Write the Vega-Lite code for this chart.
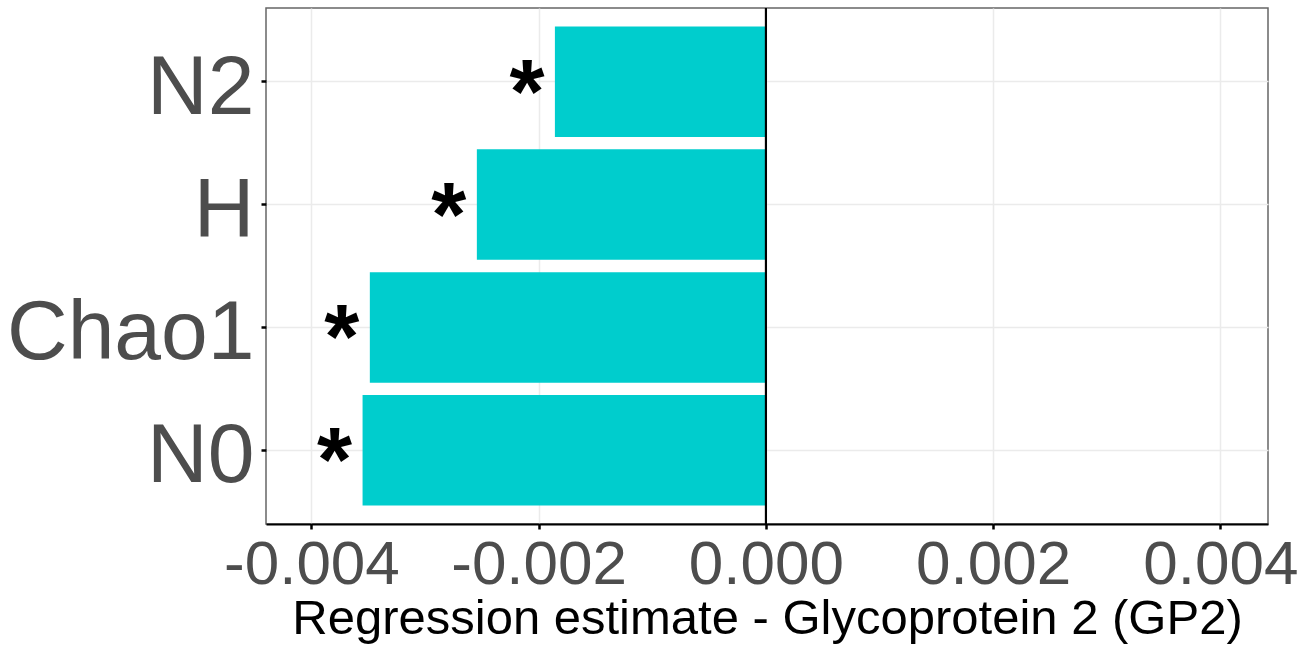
{
  "$schema": "https://vega.github.io/schema/vega-lite/v6.json",
  "autosize": {"type": "none"},
  "padding": {"left": 266, "top": 8, "right": 44, "bottom": 127},
  "width": 1002,
  "height": 516,
  "background": "white",
  "config": {
    "font": "Liberation Sans",
    "view": {"stroke": "#666666", "strokeWidth": 1.5}
  },
  "data": {
    "values": [
      {"index": "N2", "estimate": -0.001857, "sig": "*"},
      {"index": "H", "estimate": -0.002544, "sig": "*"},
      {"index": "Chao1", "estimate": -0.003486, "sig": "*"},
      {"index": "N0", "estimate": -0.00355, "sig": "*"}
    ]
  },
  "encoding": {
    "y": {
      "field": "index",
      "type": "nominal",
      "scale": {"domain": ["N2", "H", "Chao1", "N0"], "paddingInner": 0.1, "paddingOuter": 0.15},
      "axis": {
        "title": null,
        "domain": false,
        "grid": true,
        "gridColor": "#EBEBEB",
        "gridWidth": 1.5,
        "ticks": true,
        "tickColor": "#000000",
        "tickSize": 5,
        "tickWidth": 2.5,
        "labelFont": "Liberation Sans",
        "labelFontSize": 84,
        "labelColor": "#4D4D4D",
        "labelPadding": 7,
        "labelLimit": 400,
        "labelBaseline": "alphabetic",
        "labelOffset": 32,
        "labelAlign": "right"
      }
    }
  },
  "layer": [
    {
      "mark": {"type": "bar", "color": "#00CDCD"},
      "encoding": {
        "x": {
          "field": "estimate",
          "type": "quantitative",
          "scale": {"domain": [-0.0044, 0.00442], "nice": false, "zero": false},
          "axis": {
            "title": "Regression estimate - Glycoprotein 2 (GP2)",
            "titleFont": "Liberation Sans",
            "titleFontSize": 49,
            "titleFontWeight": "normal",
            "titleColor": "#000000",
            "titleBaseline": "alphabetic",
            "titleY": 109,
            "titleLimit": 1300,
            "values": [-0.004, -0.002, 0, 0.002, 0.004],
            "labelExpr": "datum.value < 0 ? '-' + format(-datum.value, '.3f') : format(datum.value, '.3f')",
            "labelFont": "Liberation Sans",
            "labelFontSize": 62,
            "labelColor": "#4D4D4D",
            "labelBaseline": "alphabetic",
            "labelPadding": 54,
            "labelFlush": false,
            "labelOverlap": false,
            "labelLimit": 400,
            "grid": true,
            "gridColor": "#EBEBEB",
            "gridWidth": 1.5,
            "domain": true,
            "domainColor": "#000000",
            "domainWidth": 2,
            "tickColor": "#000000",
            "tickSize": 5,
            "tickWidth": 2.5
          }
        }
      }
    },
    {
      "mark": {"type": "rule", "color": "#000000", "strokeWidth": 1.8},
      "encoding": {"x": {"datum": 0}, "y": {"value": 0}, "y2": {"value": 516}}
    },
    {
      "mark": {"type": "text", "fontSize": 90, "fontWeight": "bold", "color": "#000000", "align": "center", "baseline": "alphabetic", "dx": -28, "dy": 41},
      "encoding": {
        "x": {"field": "estimate", "type": "quantitative"},
        "text": {"field": "sig"}
      }
    }
  ]
}
